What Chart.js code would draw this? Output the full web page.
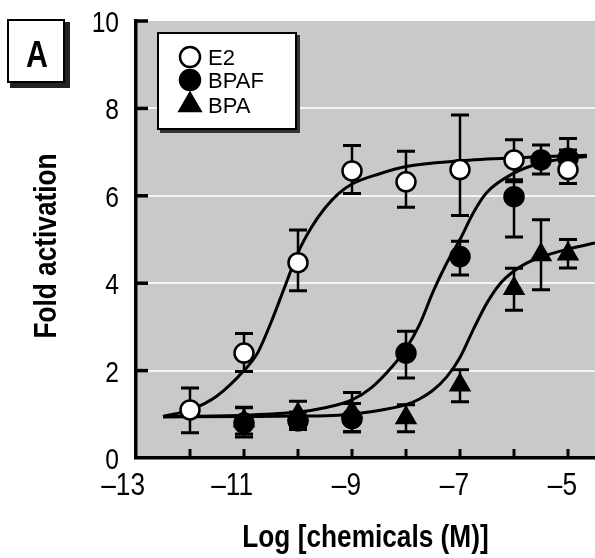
<!DOCTYPE html>
<html>
<head>
<meta charset="utf-8">
<script src="https://cdn.jsdelivr.net/npm/chart.js@4.4.1/dist/chart.umd.min.js"></script>
<style>
  html, body { margin: 0; padding: 0; background: #fff; }
  canvas { display: block; }
</style>
</head>
<body>
<canvas id="grafico" width="595" height="558"></canvas>
<script>
var fuente = "'Liberation Sans', Arial, sans-serif";
var angosto = 0.82; // the figure uses a condensed face

// measured points (log M)
var dosisE2 = [-12, -11, -10, -9, -8, -7, -6, -5];
var valE2 = [1.1, 2.4, 4.47, 6.57, 6.32, 6.6, 6.82, 6.6];
var bajoE2 = [0.52, 0.42, 0.64, 0.52, 0.58, 1.05, 0.45, 0.32];
var altoE2 = [0.5, 0.45, 0.75, 0.58, 0.7, 1.25, 0.46, 0.45];

var dosisBPAF = [-11, -10, -9, -8, -7, -6, -5.5, -5];
var valBPAF = [0.8, 0.85, 0.9, 2.4, 4.61, 5.98, 6.82, 6.86];
var bajoBPAF = [0.32, 0.2, 0.3, 0.57, 0.42, 0.92, 0.32, 0.3];
var altoBPAF = [0.36, 0.2, 0.35, 0.5, 0.35, 0.34, 0.34, 0.45];

var dosisBPA = [-11, -10, -9, -8, -7, -6, -5.5, -5];
var valBPA = [0.85, 1.0, 1.05, 0.92, 1.67, 3.88, 4.65, 4.67];
var bajoBPA = [0.3, 0.3, 0.45, 0.32, 0.38, 0.5, 0.8, 0.32];
var altoBPA = [0.3, 0.3, 0.45, 0.3, 0.35, 0.46, 0.8, 0.33];

// fitted curves
var curvaE2X = [-12.5, -12, -11.5, -11, -10.75, -10.5, -10.25, -10, -9.75, -9.5, -9.25, -9, -8.5, -8, -7, -6, -4.65];
var curvaE2Y = [0.95, 1.1, 1.42, 2.0, 2.4, 3.1, 3.9, 4.7, 5.28, 5.72, 6.05, 6.27, 6.5, 6.67, 6.8, 6.87, 6.93];

var curvaBPAFX = [-12.5, -11, -10, -9.5, -9, -8.65, -8.25, -8, -7.75, -7.5, -7.25, -7, -6.75, -6.5, -6, -5.5, -5, -4.65];
var curvaBPAFY = [0.95, 0.98, 1.05, 1.15, 1.33, 1.6, 2.1, 2.5, 3.05, 3.8, 4.45, 5.0, 5.62, 6.08, 6.52, 6.75, 6.86, 6.9];

var curvaBPAX = [-12.5, -11, -10, -9.25, -8.65, -8, -7.75, -7.5, -7.25, -7, -6.75, -6.5, -6.25, -6, -5.75, -5.5, -5, -4.5];
var curvaBPAY = [0.94, 0.95, 0.96, 0.98, 1.06, 1.22, 1.35, 1.55, 1.85, 2.3, 2.95, 3.55, 4.0, 4.28, 4.47, 4.6, 4.78, 4.92];

var ticksX = [-12, -11, -10, -9, -8, -7, -6, -5];
var etiquetasX = [-13, -11, -9, -7, -5];
var ticksY = [2, 4, 6, 8, 10];
var etiquetasY = [0, 2, 4, 6, 8, 10];

function puntos(xs, ys) {
    var out = [];
    for (var i = 0; i < xs.length; i++) out.push({x: xs[i], y: ys[i]});
    return out;
}

function curva(xs, ys) {
    return {type: 'scatter', data: puntos(xs, ys), showLine: true, pointRadius: 0,
        borderColor: '#000', borderWidth: 3, cubicInterpolationMode: 'monotone', order: 3};
}

function textoAngosto(c, txt, x, y, alinear) {
    c.save();
    c.translate(x, y);
    c.scale(angosto, 1);
    c.textAlign = alinear;
    c.fillText(txt, 0, 0);
    c.restore();
}

var series = [
    {nombre: 'E2', dosis: dosisE2, val: valE2, bajo: bajoE2, alto: altoE2, estilo: 'circle', relleno: '#fff', radio: 9.5},
    {nombre: 'BPAF', dosis: dosisBPAF, val: valBPAF, bajo: bajoBPAF, alto: altoBPAF, estilo: 'circle', relleno: '#000', radio: 9.5},
    {nombre: 'BPA', dosis: dosisBPA, val: valBPA, bajo: bajoBPA, alto: altoBPA, estilo: 'triangle', relleno: '#000', radio: 10.5}
];

var datasets = [curva(curvaE2X, curvaE2Y), curva(curvaBPAFX, curvaBPAFY), curva(curvaBPAX, curvaBPAY)];
series.forEach(function (s) {
    datasets.push({label: s.nombre, data: puntos(s.dosis, s.val), pointStyle: s.estilo,
        pointRadius: s.radio, pointBackgroundColor: s.relleno, pointBorderColor: '#000',
        pointBorderWidth: 2.5, showLine: false, order: 1});
});

var fondo = {
    id: 'fondo',
    beforeDraw: function (chart) {
        var c = chart.ctx, a = chart.chartArea;
        c.save();
        c.fillStyle = '#c9c9c9';
        c.fillRect(a.left, a.top, a.right - a.left, a.bottom - a.top);
        c.restore();
    }
};

var barras = {
    id: 'barras',
    beforeDatasetsDraw: function (chart) {
        var c = chart.ctx, sx = chart.scales.x, sy = chart.scales.y;
        c.save();
        c.strokeStyle = '#000';
        // inward tick marks
        c.lineWidth = 3;
        ticksX.forEach(function (t) {
            var px = sx.getPixelForValue(t);
            c.beginPath(); c.moveTo(px, sy.bottom); c.lineTo(px, sy.bottom - 9); c.stroke();
        });
        c.lineWidth = 3.5;
        ticksY.forEach(function (t) {
            var py = sy.getPixelForValue(t);
            c.beginPath(); c.moveTo(sx.left, py); c.lineTo(sx.left + 12, py); c.stroke();
        });
        // error bars
        series.forEach(function (s) {
            for (var i = 0; i < s.dosis.length; i++) {
                var px = sx.getPixelForValue(s.dosis[i]);
                var y1 = sy.getPixelForValue(s.val[i] + s.alto[i]);
                var y2 = sy.getPixelForValue(s.val[i] - s.bajo[i]);
                c.lineWidth = 2.5;
                c.beginPath(); c.moveTo(px, y1); c.lineTo(px, y2); c.stroke();
                c.lineWidth = 3;
                c.beginPath();
                c.moveTo(px - 9, y1); c.lineTo(px + 9, y1);
                c.moveTo(px - 9, y2); c.lineTo(px + 9, y2);
                c.stroke();
            }
        });
        c.restore();
    }
};

var adornos = {
    id: 'adornos',
    afterDraw: function (chart) {
        var c = chart.ctx, a = chart.chartArea, sx = chart.scales.x, sy = chart.scales.y;
        c.save();
        c.fillStyle = '#000';
        c.textBaseline = 'alphabetic';

        // tick labels
        c.font = '30px ' + fuente;
        etiquetasY.forEach(function (v) {
            textoAngosto(c, String(v), sx.left - 17, sy.getPixelForValue(v) + 11, 'right');
        });
        c.font = '32px ' + fuente;
        etiquetasX.forEach(function (v) {
            textoAngosto(c, '\u2013' + Math.abs(v), sx.getPixelForValue(v) + 9, 495, 'right');
        });

        // axis titles
        c.font = 'bold 32px ' + fuente;
        textoAngosto(c, 'Log [chemicals (M)]', (a.left + a.right) / 2, 547, 'center');
        c.save();
        c.translate(56, 246);
        c.rotate(-Math.PI / 2);
        textoAngosto(c, 'Fold activation', 0, 0, 'center');
        c.restore();

        // panel letter
        c.fillStyle = '#222';
        c.fillRect(10, 22, 60, 66);
        c.fillStyle = '#fff';
        c.fillRect(7, 19, 58, 64);
        c.strokeStyle = '#000';
        c.lineWidth = 2;
        c.strokeRect(8, 20, 56, 62);
        c.fillStyle = '#000';
        c.font = 'bold 37px ' + fuente;
        textoAngosto(c, 'A', 37, 67, 'center');

        // legend
        c.fillStyle = '#333';
        c.fillRect(160, 35, 140, 98);
        c.fillStyle = '#fff';
        c.fillRect(157, 32, 140, 98);
        c.strokeStyle = '#000';
        c.lineWidth = 2;
        c.strokeRect(158, 33, 138, 96);
        var filas = [57, 80, 105];
        c.font = '22px ' + fuente;
        c.textAlign = 'left';
        series.forEach(function (s, i) {
            c.fillStyle = s.relleno;
            c.strokeStyle = '#000';
            c.lineWidth = 2.5;
            c.beginPath();
            if (s.estilo === 'triangle') {
                var r = 12;
                c.moveTo(190, filas[i] - r);
                c.lineTo(190 + r * 0.866, filas[i] + r * 0.5);
                c.lineTo(190 - r * 0.866, filas[i] + r * 0.5);
                c.closePath();
            } else {
                c.arc(190, filas[i], 10, 0, Math.PI * 2);
            }
            c.fill(); c.stroke();
            c.fillStyle = '#000';
            c.fillText(s.nombre, 208, filas[i] + 8);
        });
        c.restore();
    }
};

new Chart(document.getElementById('grafico'), {
    type: 'scatter',
    data: {datasets: datasets},
    options: {
        responsive: false,
        animation: false,
        events: [],
        layout: {autoPadding: false, padding: {top: 21, right: 0, left: 0, bottom: 0}},
        plugins: {legend: {display: false}, tooltip: {enabled: false}},
        scales: {
            x: {
                type: 'linear', min: -13, max: -4.5,
                afterFit: function (s) { s.height = 100; },
                grid: {display: false, drawTicks: false},
                border: {display: true, color: '#000', width: 3.5},
                ticks: {display: false}
            },
            y: {
                min: 0, max: 10,
                afterFit: function (s) { s.width = 136; },
                grid: {drawTicks: false, lineWidth: 2,
                    color: function (c) { return c.tick && c.tick.value > 0 && c.tick.value < 10 ? 'rgba(255,255,255,0.8)' : 'rgba(0,0,0,0)'; }},
                border: {display: true, color: '#000', width: 3.5},
                ticks: {display: false, stepSize: 2}
            }
        }
    },
    plugins: [fondo, barras, adornos]
});
</script>
</body>
</html>
